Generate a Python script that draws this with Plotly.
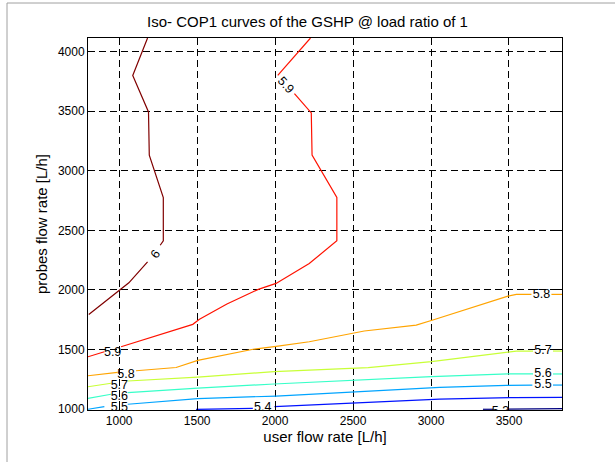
import plotly.graph_objects as go

# ---------------- data ----------------
title_text = "Iso- COP1 curves of the GSHP @ load ratio of 1"
x_title = "user flow rate [L/h]"
y_title = "probes flow rate [L/h]"
x_ticks = [1000, 1500, 2000, 2500, 3000, 3500]
y_ticks = [1000, 1500, 2000, 2500, 3000, 3500, 4000]
x_range = [800, 3840]
y_range = [994, 4112]

# iso-COP1 curves (None = gap where MATLAB put the inline label)
x_60 = [805, 1062, 1182, None, 1263, 1283, 1283, 1193, 1188, 1087, 1182]
y_60 = [1795, 2060, 2236, None, 2375, 2412, 2775, 3130, 3492, 3797, 4112]

x_59 = [800, 905, None, 1012, 1472, 1515, 1691, 1892, 2006, 2219, 2396, 2396, 2237, 2232, 2124, None, 2017, 2227]
y_59 = [1440, 1482, None, 1524, 1712, 1754, 1882, 2005, 2055, 2222, 2412, 2775, 3130, 3484, 3646, None, 3799, 4112]

x_58 = [800, 990, None, 1108, 1365, 1504, 1867, 2007, 2219, 2572, 2905, 3012, 3226, 3493, 3547, 3644, None, 3772, 3840]
y_58 = [1281, 1310, None, 1323, 1350, 1410, 1505, 1527, 1566, 1656, 1706, 1748, 1837, 1948, 1963, 1963, None, 1963, 1963]

x_57 = [800, 948, None, 1055, 1504, 1993, 2597, 3002, 3226, 3547, 3654, None, 3782, 3840]
y_57 = [1189, 1218, None, 1237, 1270, 1315, 1350, 1400, 1437, 1488, 1488, None, 1488, 1488]

x_56 = [800, 948, None, 1055, 1504, 1993, 2597, 3002, 3493, 3654, None, 3782, 3840]
y_56 = [1092, 1126, None, 1139, 1178, 1212, 1250, 1273, 1296, 1296, None, 1296, 1296]

x_55 = [800, 905, None, 1055, 1504, 2007, 2597, 3055, 3483, 3650, None, 3782, 3840]
y_55 = [1000, 1022, None, 1042, 1090, 1111, 1153, 1184, 1200, 1203, None, 1203, 1203]

x_54 = [1493, 1857, None, 1996, 2349, 2597, 3055, 3528, 3840]
y_54 = [1000, 1008, None, 1022, 1042, 1058, 1085, 1098, 1100]

x_53 = [3333, 3397, None, 3493, 3840]
y_53 = [1000, 1000, None, 1002, 1006]

curve_levels = [6.0, 5.9, 5.8, 5.7, 5.6, 5.5, 5.4, 5.3]
curve_x = [x_60, x_59, x_58, x_57, x_56, x_55, x_54, x_53]
curve_y = [y_60, y_59, y_58, y_57, y_56, y_55, y_54, y_53]

# inline contour labels (horizontal)
lab_text = ["5.9", "5.8", "5.7", "5.6", "5.5", "5.4", "5.3", "5.8", "5.7", "5.6", "5.5"]
lab_x = [958, 1044, 1001, 1001, 1001, 1921, 3445, 3708, 3718, 3718, 3718]
lab_y = [1469, 1290, 1198, 1106, 1008, 1008, 980, 1963, 1488, 1296, 1203]
# rotated inline labels
rlab_text = ["6", "5.9"]
rlab_x = [1233, 2068]
rlab_y = [2300, 3716]
rlab_angle = [-55, 48]

# ---------------- style ----------------
FONT = "Liberation Sans, Arial, Helvetica, sans-serif"


def jet(t):
    def ramp(v):
        return max(0.0, min(1.0, v))
    r = ramp(min(4 * t - 1.5, -4 * t + 4.5))
    g = ramp(min(4 * t - 0.5, -4 * t + 3.5))
    b = ramp(min(4 * t + 0.5, -4 * t + 2.5))
    return "rgb(%d,%d,%d)" % (round(r * 255), round(g * 255), round(b * 255))


lo, hi = min(curve_levels), max(curve_levels)

fig = go.Figure()
for lev, xs, ys in zip(curve_levels, curve_x, curve_y):
    fig.add_trace(go.Scatter(
        x=xs, y=ys, mode="lines",
        line=dict(color=jet((lev - lo) / (hi - lo)), width=1.2),
        connectgaps=False, hoverinfo="skip", showlegend=False,
    ))

fig.add_trace(go.Scatter(
    x=lab_x, y=lab_y, text=lab_text, mode="text",
    textfont=dict(family=FONT, size=12.5, color="black"),
    cliponaxis=True, hoverinfo="skip", showlegend=False,
))

for t, x, y, a in zip(rlab_text, rlab_x, rlab_y, rlab_angle):
    fig.add_annotation(x=x, y=y, text=t, textangle=a, showarrow=False,
                       font=dict(family=FONT, size=12.5, color="black"))

axis_common = dict(
    showline=True, linecolor="black", linewidth=1, mirror="ticks",
    ticks="inside", ticklen=5, tickcolor="black", tickwidth=1,
    showgrid=True, gridcolor="black", gridwidth=1, griddash="7px,4px",
    zeroline=False, tickfont=dict(family=FONT, size=12, color="black"),
)

fig.update_xaxes(range=x_range, tickvals=x_ticks, ticktext=[str(v) for v in x_ticks],
                 title=dict(text=x_title, font=dict(family=FONT, size=15, color="black"), standoff=4),
                 **axis_common)
fig.update_yaxes(range=y_range, tickvals=y_ticks, ticktext=[str(v) for v in y_ticks],
                 title=dict(text=y_title, font=dict(family=FONT, size=15, color="black"), standoff=6),
                 **axis_common)

L, R, T, B = 88, 53, 38, 52
W, H = 615, 462
pw, ph = W - L - R, H - T - B
fx = lambda px: (px - L) / pw
fy = lambda py: 1 - (py - T) / ph

fig.update_layout(
    width=W, height=H,
    margin=dict(l=L, r=R, t=T, b=B, pad=0),
    paper_bgcolor="white", plot_bgcolor="white",
    hovermode=False,
    title=dict(text=title_text, x=fx(325), xanchor="center", y=1 - 22 / H, yanchor="middle",
               font=dict(family=FONT, size=15, color="black")),
    shapes=[
        dict(type="line", xref="paper", yref="paper", x0=fx(7), x1=fx(7), y0=fy(3), y1=fy(470),
             line=dict(color="#a0a0a0", width=1)),
        dict(type="line", xref="paper", yref="paper", x0=fx(7), x1=fx(620), y0=fy(3), y1=fy(3),
             line=dict(color="#a0a0a0", width=1)),
    ],
)

fig.write_html("out.html",
               config={"displayModeBar": False},
               post_script="document.body.style.margin='0';document.body.style.overflow='hidden';")
